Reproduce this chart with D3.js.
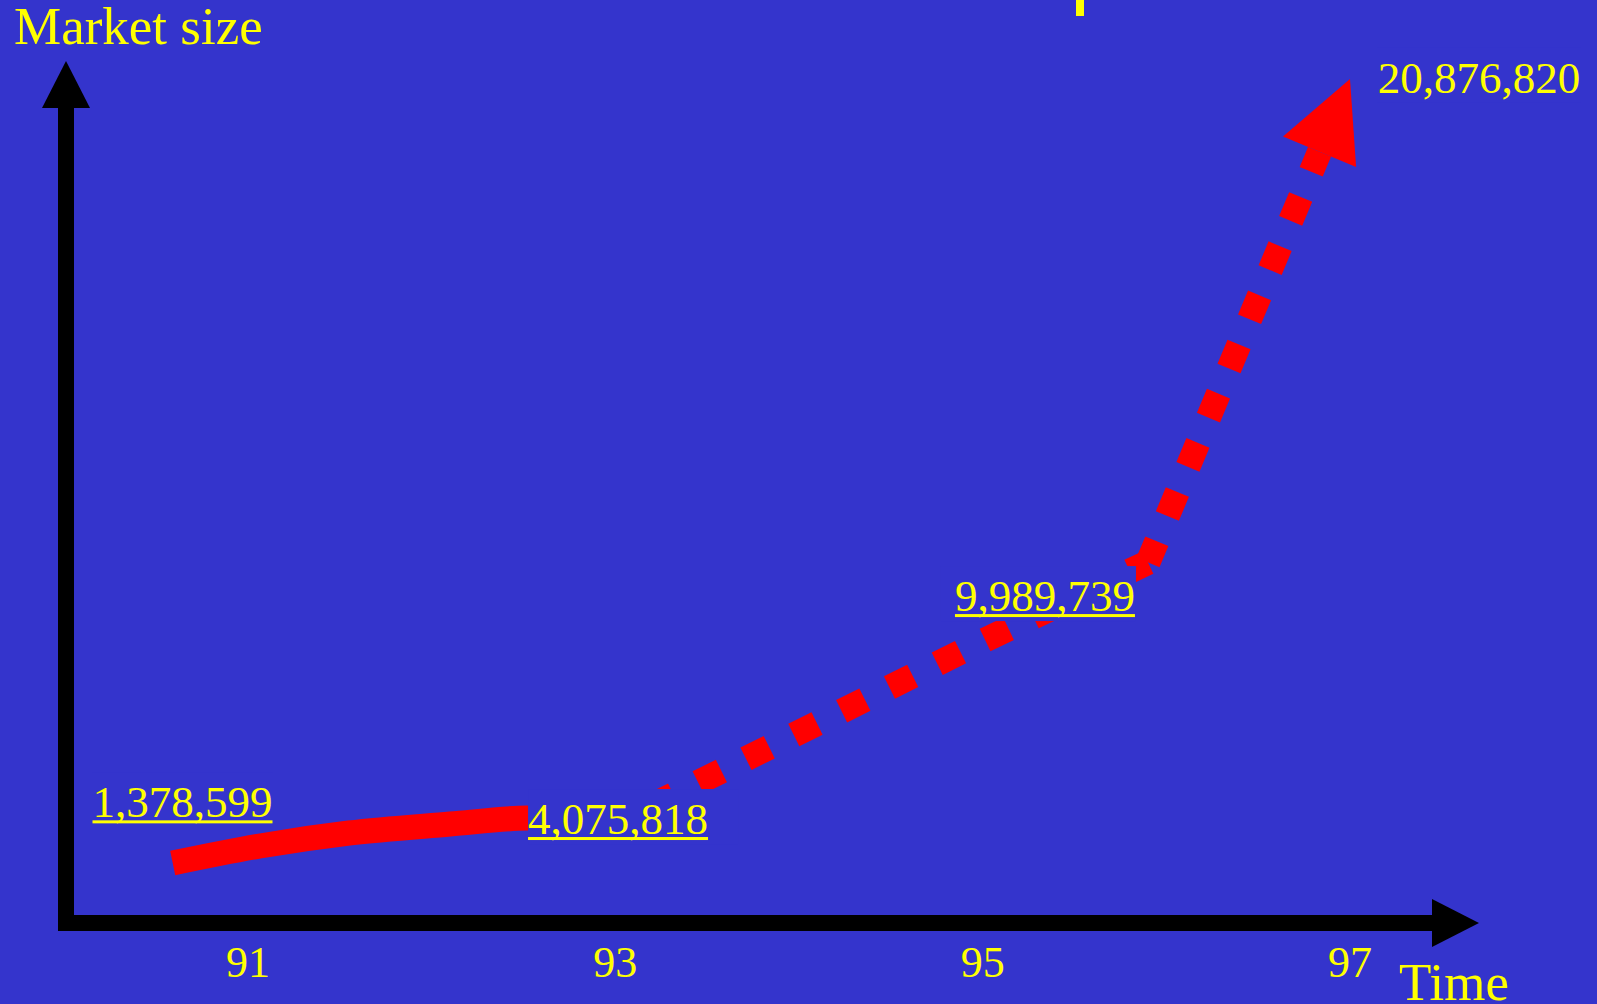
<!DOCTYPE html>
<html>
<head>
<meta charset="utf-8">
<script src="https://cdn.jsdelivr.net/npm/d3@7"></script>
<style>
  html, body { margin: 0; padding: 0; background: #3434CC; }
  svg { display: block; }
  text { font-family: "Liberation Serif", "Times New Roman", serif; fill: #FFFF00; }
</style>
</head>
<body>
<script>
// Market size by year
const years = [91, 93, 95, 97];
const tickLabels = ["91", "93", "95", "97"];
const marketSize = [1378599, 4075818, 9989739, 20876820];

// Trend arrow: solid stretch up to '93
const solidYears  = [90.59, 91.065, 91.55, 92.1, 92.52, 93];
const solidValues = [790000, 2410000, 3230000, 3720000, 4030000, 4075818];

// Trend arrow: dashed projection to the bend after '95
const dashYears  = [92.93, 95, 95.9];
const dashValues = [3400000, 9989739, 11920000];

// Trend arrow: steep dashed run ending in the arrowhead at '97
const arrowYears  = [95.9, 97];
const arrowValues = [11920000, 20876820];

const W = 1597, H = 1004;
const RED = "#FF0000", YELLOW = "#FFFF00", BG = "#3434CC";

const svg = d3.select("body").append("svg")
  .attr("width", W).attr("height", H);

svg.append("rect").attr("width", W).attr("height", H).attr("fill", BG);

// Scales
const x = d3.scaleLinear().domain([91, 97]).range([248, 1350]);
const y = d3.scalePow().exponent(1.7).domain([0, 21e6]).range([866, 71]);

// Axis arrows (L-shaped frame)
const frame = svg.append("g").attr("fill", "#000");
frame.append("rect").attr("x", 58).attr("y", 104).attr("width", 16).attr("height", 827);
frame.append("polygon").attr("points", "66,61 42,108 90,108");
frame.append("rect").attr("x", 58).attr("y", 915).attr("width", 1378).attr("height", 16);
frame.append("polygon").attr("points", "1479,923 1432,899 1432,947");

// Year labels along the time axis
svg.append("g").selectAll("text")
  .data(years)
  .join("text")
  .attr("x", d => x(d))
  .attr("y", 977)
  .attr("text-anchor", "middle")
  .attr("font-size", 44)
  .text((d, i) => tickLabels[i]);

// Axis titles
svg.append("text").attr("x", 14).attr("y", 44).attr("font-size", 53).text("Market size");
svg.append("text").attr("x", 1399).attr("y", 1000).attr("font-size", 53).text("Time");

// Stray descender of the slide heading above the frame
svg.append("rect").attr("x", 1076).attr("y", 0).attr("width", 8).attr("height", 16).attr("fill", YELLOW);

// Trend arrow
const lineGen = d3.line().x(d => x(d[0])).y(d => y(d[1]));
const arrowG = svg.append("g").attr("fill", "none").attr("stroke", RED).attr("stroke-width", 25).attr("stroke-linecap", "butt");

arrowG.append("path")
  .attr("d", lineGen.curve(d3.curveMonotoneX)(d3.zip(solidYears, solidValues)));

arrowG.append("path")
  .attr("d", lineGen.curve(d3.curveLinear)(d3.zip(dashYears, dashValues)))
  .attr("stroke-dasharray", "26 27.4");

const p0 = [x(arrowYears[0]), y(arrowValues[0])];
const tip = [x(arrowYears[1]), y(arrowValues[1])];
const len = Math.hypot(tip[0] - p0[0], tip[1] - p0[1]);
const u = [(tip[0] - p0[0]) / len, (tip[1] - p0[1]) / len];
const n = [-u[1], u[0]];
const headLen = 79, headHalf = 39.6;
const base = [tip[0] - headLen * u[0], tip[1] - headLen * u[1]];

arrowG.append("path")
  .attr("d", d3.line()([p0, base]))
  .attr("stroke-dasharray", "26 27.3")
  .attr("stroke-dashoffset", 3);

svg.append("polygon")
  .attr("fill", RED)
  .attr("points", [
    tip,
    [base[0] + headHalf * n[0], base[1] + headHalf * n[1]],
    [base[0] - headHalf * n[0], base[1] - headHalf * n[1]]
  ].map(p => p.join(",")).join(" "));

// Value labels, each on a background-filled text box
const fmt = d3.format(",");
const labelLayout = [
  { dx: -65.5, dy: -40.9, padL: 0,  padR: 0,  underline: true },
  { dx: 2.7,   dy: 17,    padL: 0,  padR: 30, underline: true },
  { dx: 62.3,  dy: -30.1, padL: 14, padR: 1,  underline: true },
  { dx: 129,   dy: 14,    padL: 0,  padR: 0,  underline: false }
];

marketSize.forEach((v, i) => {
  const L = labelLayout[i];
  const cx = x(years[i]) + L.dx;
  const by = y(v) + L.dy;
  const g = svg.append("g");
  const box = g.append("rect").attr("fill", BG);
  const t = g.append("text")
    .attr("x", cx).attr("y", by)
    .attr("text-anchor", "middle")
    .attr("font-size", 45)
    .text(fmt(v));
  const w = t.node().getComputedTextLength();
  const left = cx - w / 2;
  box.attr("x", left - L.padL).attr("y", by - 45)
     .attr("width", w + L.padL + L.padR).attr("height", 55);
  if (L.underline) {
    g.append("rect")
      .attr("x", left).attr("y", by + 3)
      .attr("width", w).attr("height", 3)
      .attr("fill", YELLOW);
  }
});
</script>
</body>
</html>
